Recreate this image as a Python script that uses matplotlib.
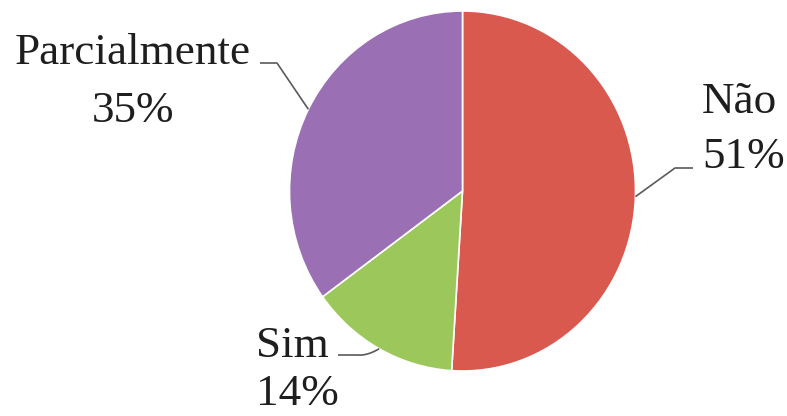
import matplotlib
matplotlib.use('Agg')
import matplotlib.pyplot as plt
import numpy as np

categories = ['Não', 'Sim', 'Parcialmente']
values = [51, 14, 35]
colors = ['#D9594F', '#9CC75A', '#9A6FB4']

W, H = 787, 416
fig = plt.figure(figsize=(W / 100, H / 100), dpi=100)
fig.patch.set_facecolor('white')

# pie box in pixels (from top-left): centre and radii
cx, cy, rx, ry = 462.5, 191, 173, 180
ax = fig.add_axes([(cx - rx) / W, (H - cy - ry) / H, 2 * rx / W, 2 * ry / H])
wedges, _ = ax.pie(values, colors=colors, startangle=90, counterclock=False,
                   wedgeprops=dict(edgecolor='white', linewidth=1.2))
ax.set_aspect('auto')
ax.set_xlim(-1, 1)
ax.set_ylim(-1, 1)
ax.axis('off')

ov = fig.add_axes([0, 0, 1, 1])
ov.set_xlim(0, W)
ov.set_ylim(H, 0)
ov.axis('off')

# layout: elbow points of leader lines and text anchors (pixels)
layout = {
    'Não': dict(elbow=[(675, 168), (693, 168)], curve=False,
                name=(702, 113), pct=(702, 168), ha='left'),
    'Sim': dict(elbow=[(357, 355), (338, 355)], curve=True,
                name=(256, 357), pct=(256, 405), ha='left'),
    'Parcialmente': dict(elbow=[(277, 63), (260, 63)], curve=False,
                         name=(132.5, 64), pct=(133, 122), ha='center'),
}

font = dict(family='Liberation Serif', size=32.5, color='#1e1e1e')
line_kw = dict(color='#5a5a5a', lw=1.2, solid_capstyle='butt')

for w, cat, val in zip(wedges, categories, values):
    th = np.deg2rad((w.theta1 + w.theta2) / 2)
    dx, dy = ax.transData.transform((np.cos(th), np.sin(th)))
    ax_pt = (dx, H - dy)
    L = layout[cat]
    e1, e2 = L['elbow']
    if L['curve']:
        ctrl = (e1[0] + 10, e1[1] + 1)
        t = np.linspace(0, 1, 30)
        bx = (1 - t) ** 2 * ax_pt[0] + 2 * (1 - t) * t * ctrl[0] + t ** 2 * e1[0]
        by = (1 - t) ** 2 * ax_pt[1] + 2 * (1 - t) * t * ctrl[1] + t ** 2 * e1[1]
        ov.plot(list(bx) + [e2[0]], list(by) + [e2[1]], **line_kw)
    else:
        ov.plot([ax_pt[0], e1[0], e2[0]], [ax_pt[1], e1[1], e2[1]], **line_kw)
    ov.text(*L['name'], cat, ha=L['ha'], va='baseline', **font)
    ov.text(*L['pct'], f"{val}%", ha=L['ha'], va='baseline', **font)

fig.savefig('out.png', dpi=100, facecolor='white')
